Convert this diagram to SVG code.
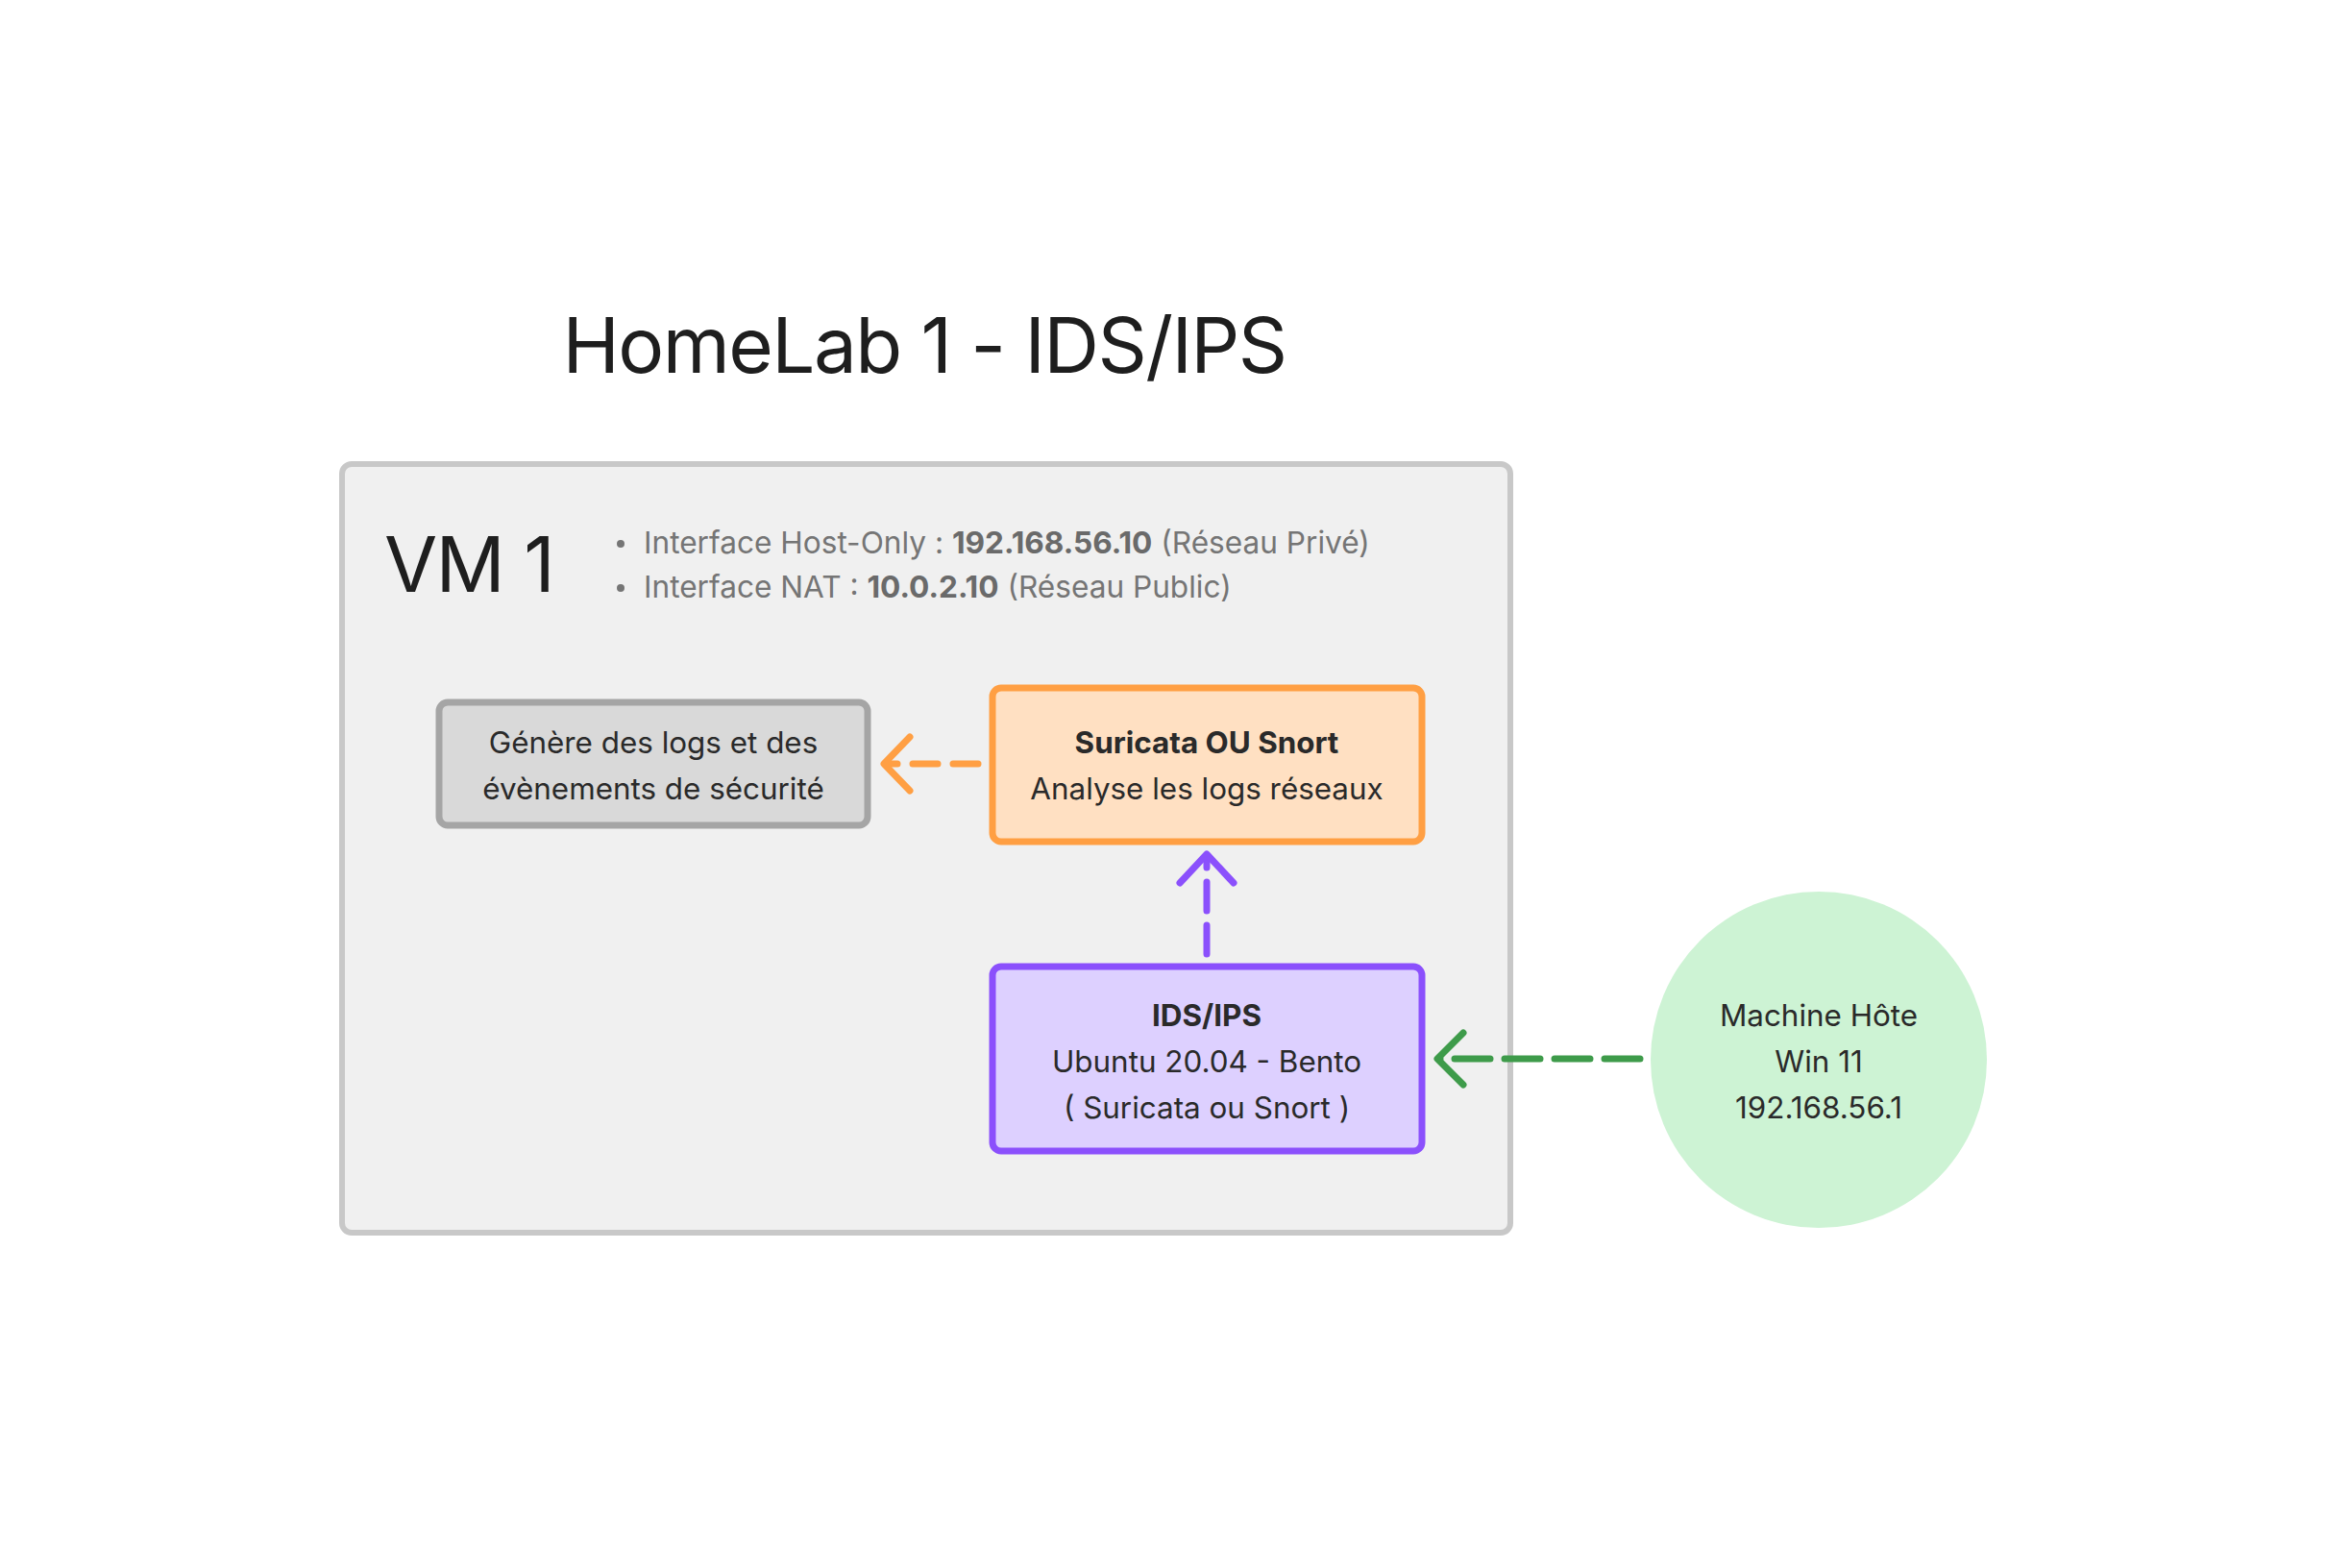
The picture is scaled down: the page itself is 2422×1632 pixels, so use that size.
<svg xmlns="http://www.w3.org/2000/svg" width="2422" height="1632" viewBox="0 0 2422 1632">
<style>
text{font-family:Inter,"Noto Sans","Liberation Sans",sans-serif;fill:#2a2a2a}
.t{font-size:31.4px;text-anchor:middle}
.b{font-weight:700}
.bul{font-size:31.6px;fill:#757575}
.bul tspan.b{fill:#6a6a6a}
.big{font-size:80px;letter-spacing:-1.6px;fill:#1e1e1e}
.con{fill:none;stroke-width:7;stroke-linecap:round;stroke-linejoin:round}
</style>
<rect width="2422" height="1632" fill="#ffffff"/>
<text class="big" x="962" y="388" text-anchor="middle">HomeLab 1 - IDS/IPS</text>
<g id="vm1">
<rect x="356" y="483" width="1216" height="800" rx="10" fill="#f0f0f0" stroke="#c8c8c8" stroke-width="6"/>
<text class="big" x="400" y="616">VM 1</text>
<circle cx="646" cy="566" r="4" fill="#757575"/>
<text class="bul" x="670" y="576">Interface Host-Only : <tspan class="b">192.168.56.10</tspan> (Réseau Privé)</text>
<circle cx="646" cy="612" r="4" fill="#757575"/>
<text class="bul" x="670" y="622">Interface NAT : <tspan class="b">10.0.2.10</tspan> (Réseau Public)</text>
</g>
<g id="logs">
<rect x="457" y="731" width="446" height="128" rx="9" fill="#d9d9d9" stroke="#a5a5a5" stroke-width="7"/>
<text class="t" x="680" y="784">Génère des logs et des</text>
<text class="t" x="680" y="832">évènements de sécurité</text>
</g>
<g id="suricata">
<rect x="1033" y="716" width="447" height="160" rx="9" fill="#ffe0c2" stroke="#ff9f43" stroke-width="7"/>
<text class="t b" x="1256" y="784">Suricata OU Snort</text>
<text class="t" x="1256" y="832">Analyse les logs réseaux</text>
</g>
<g id="ids">
<rect x="1033" y="1006" width="447" height="192" rx="9" fill="#ddd0ff" stroke="#8b50fc" stroke-width="7"/>
<text class="t b" x="1256" y="1068">IDS/IPS</text>
<text class="t" x="1256" y="1116">Ubuntu 20.04 - Bento</text>
<text class="t" x="1256" y="1164">( Suricata ou Snort )</text>
</g>
<g id="host">
<circle cx="1893" cy="1103" r="175" fill="#cdf3d4"/>
<text class="t" x="1893" y="1068">Machine Hôte</text>
<text class="t" x="1893" y="1116">Win 11</text>
<text class="t" x="1893" y="1164">192.168.56.1</text>
</g>
<g id="connectors">
<path class="con" d="M1018 795 L921 795" stroke="#ff9f43" stroke-dasharray="26 16"/>
<path class="con" d="M947 767 L920 795 L947 823" stroke="#ff9f43"/>
<path class="con" d="M1256 993 L1256 890" stroke="#8b50fc" stroke-dasharray="30 15"/>
<path class="con" d="M1228 919 L1256 889 L1284 919" stroke="#8b50fc"/>
<path class="con" d="M1707 1102 L1497 1102" stroke="#3e9b4a" stroke-dasharray="37 15"/>
<path class="con" d="M1523 1075 L1496 1102 L1523 1129" stroke="#3e9b4a"/>
</g>
</svg>
